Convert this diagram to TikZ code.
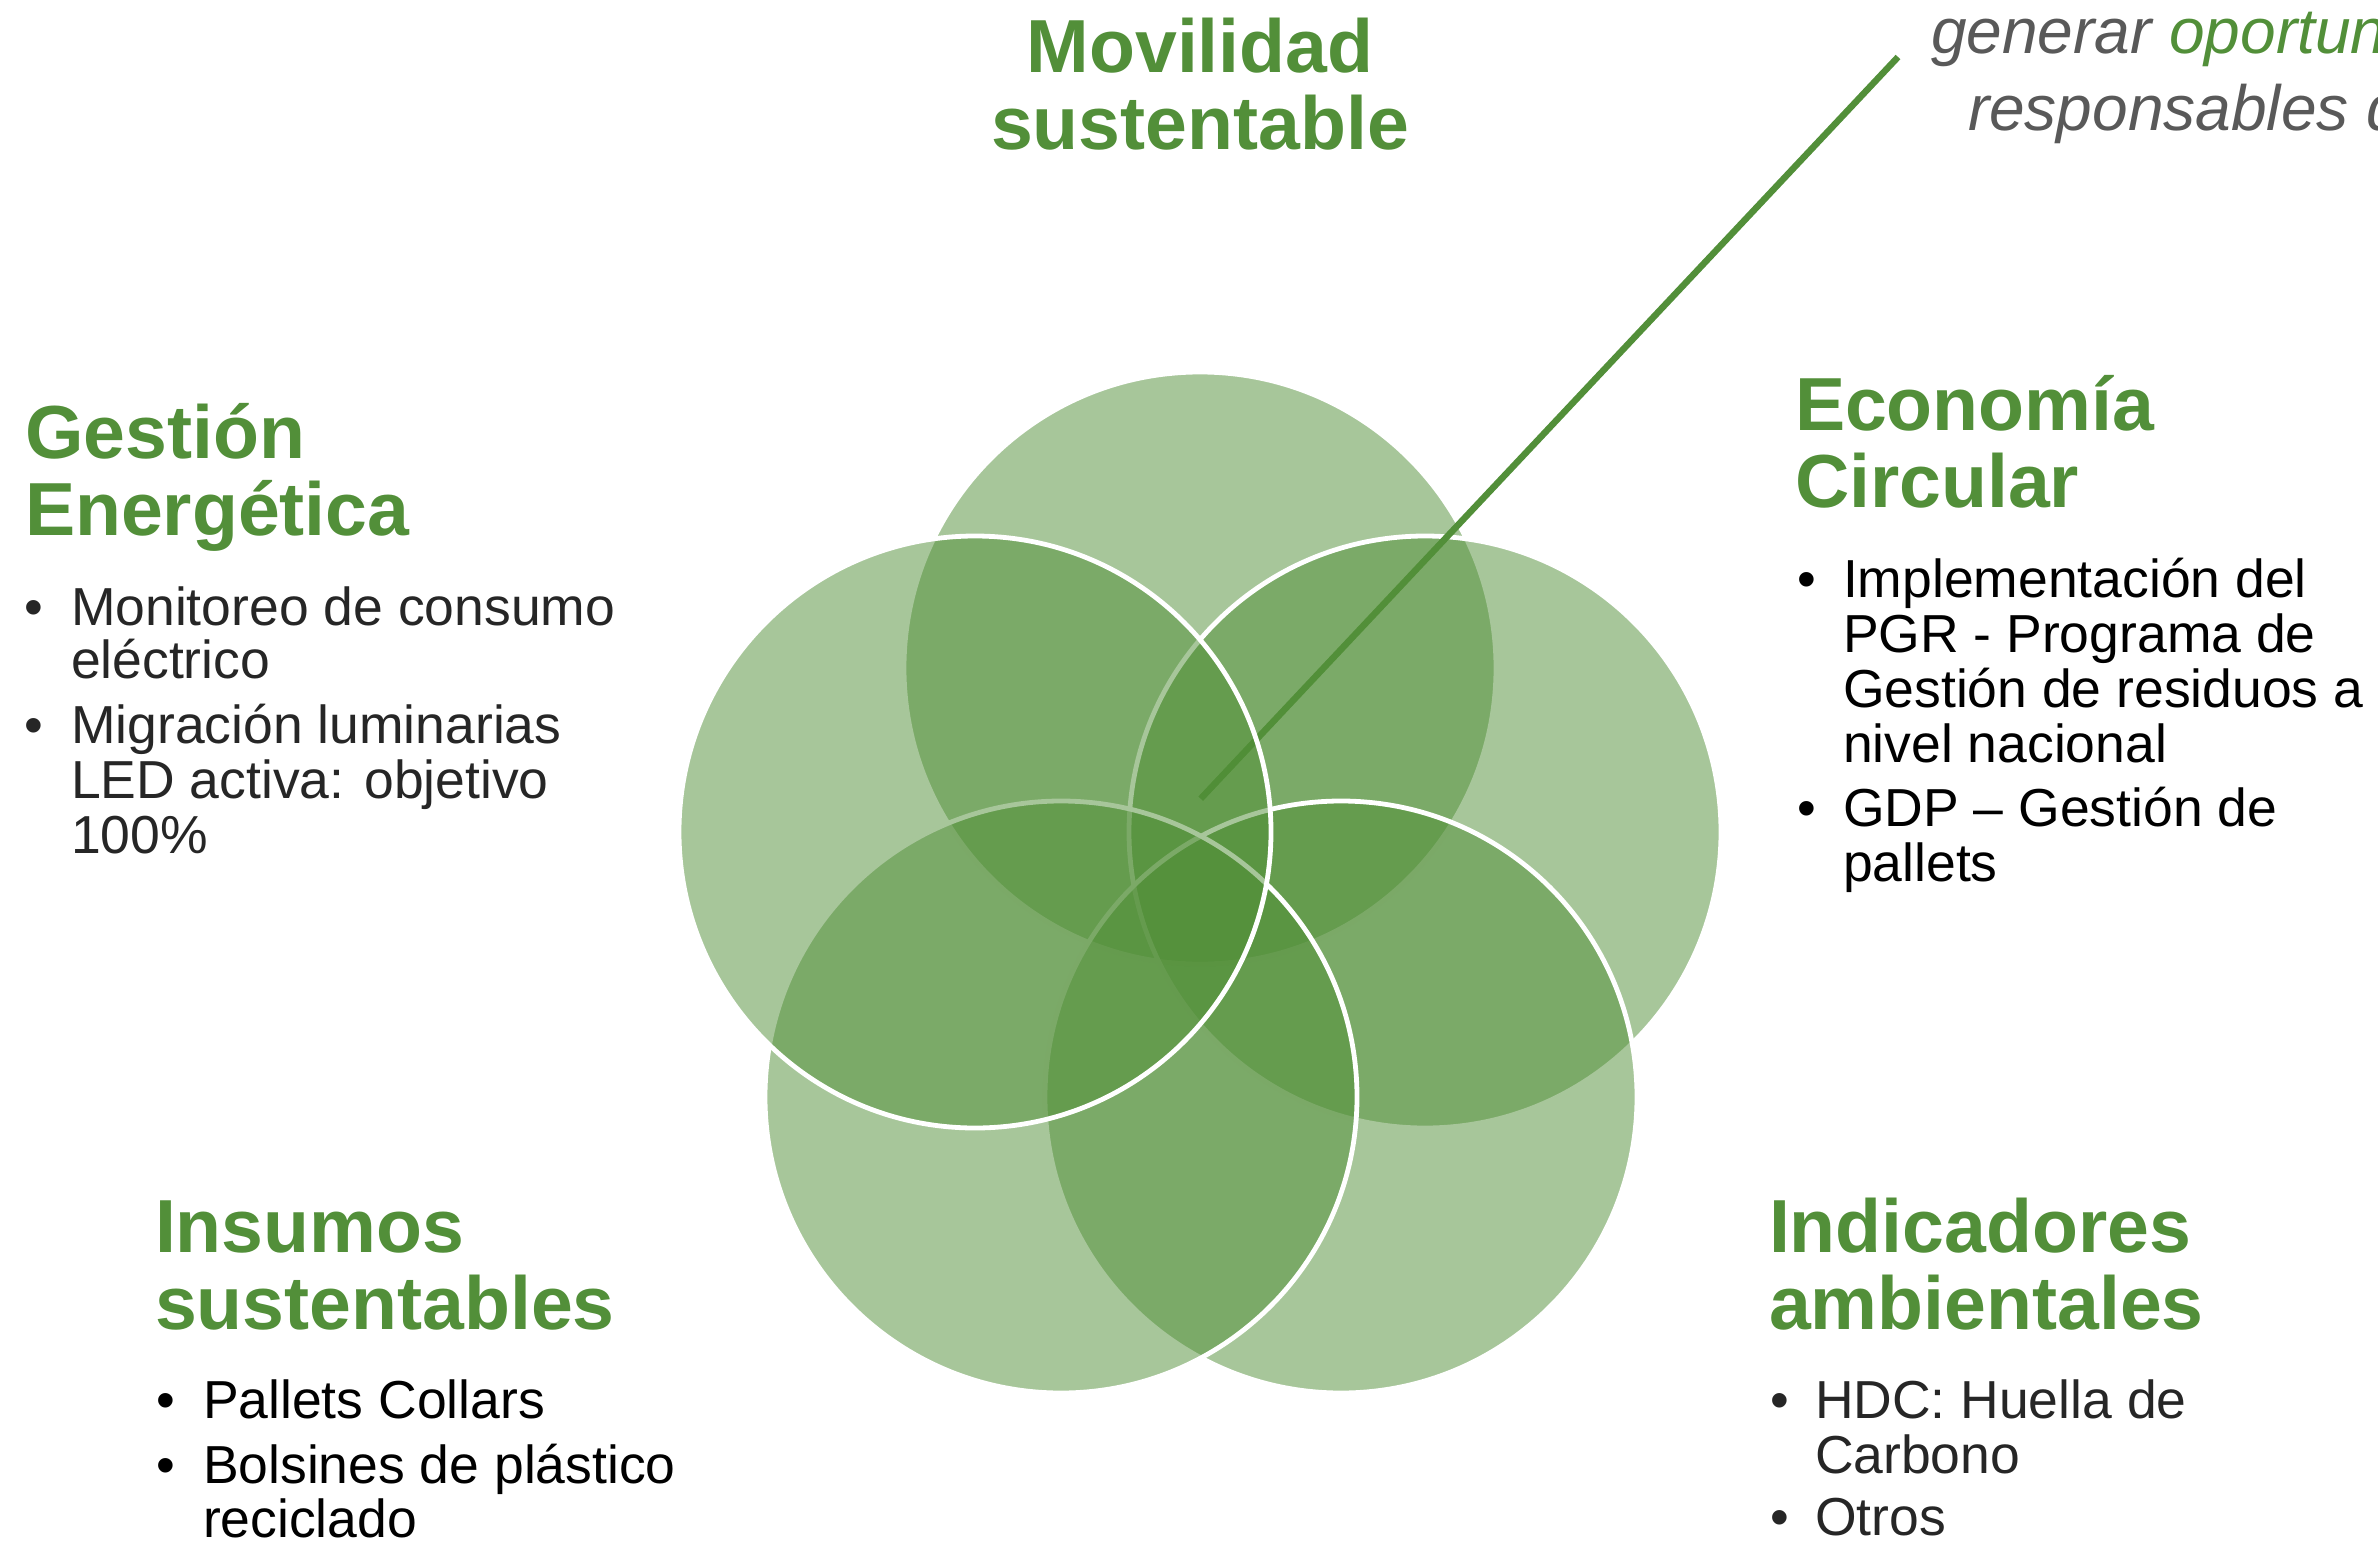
\documentclass[tikz,border=0pt]{standalone}
\usepackage{fontspec}
\setmainfont{Liberation Sans}
\definecolor{grn}{RGB}{82,143,57}
\definecolor{circ}{RGB}{80,142,54}
\definecolor{dk}{RGB}{38,38,38}
\definecolor{gry}{RGB}{89,89,89}
\begin{document}
\begin{tikzpicture}[x=1pt,y=-1pt,
  petal/.style={circle, minimum size=592pt, inner sep=0pt, outer sep=0pt,
    fill=circ, fill opacity=0.5, draw=white, line width=4.8pt},
  ttl/.style={anchor=base west, inner sep=0pt, outer sep=0pt, text=grn,
    font=\fontsize{75.2}{77}\selectfont\bfseries},
  ttlc/.style={ttl, anchor=base},
  itm/.style={anchor=base west, inner sep=0pt, outer sep=0pt,
    font=\fontsize{53.5}{54.5}\selectfont},
  itmd/.style={itm, text=dk},
  itmk/.style={itm, text=black},
  note/.style={anchor=base west, inner sep=0pt, outer sep=0pt, text=gry,
    font=\fontsize{64}{77}\selectfont\itshape},
  link/.style={draw=grn, line width=6.5pt}]
\useasboundingbox (0,0) rectangle (2378,1542);
\clip (0,0) rectangle (2378,1542);

% circles (drawing order matters for the white outlines)
\node[petal] (cT)  at (1200,668) {};
\node[petal] (cR)  at (1425,832) {};
\node[petal] (cBR) at (1341,1097) {};
\node[petal] (cBL) at (1061,1097) {};
\coordinate (lnA) at (1200.7,798.7);
\coordinate (lnB) at (1898,57);
\draw[link] (lnA) -- (lnB);
\node[petal] (cL)  at (975,832) {};

% top title
\node[ttlc] (t1a) at (1200,72) {Movilidad};
\node[ttlc] (t1b) at (1200,149) {sustentable};

% top-right note
\node[note] (n1) at (1931,53) {generar \textcolor{grn}{oportuni}};
\node[note] (n2) at (1968,130) {responsables d};

% Gestion Energetica
\node[ttl] (t2a) at (25,458) {Gestión};
\node[ttl] (t2b) at (25,535) {Energética};
\node[itmd] (g0) at (24,625) {•};
\node[itmd] (g1) at (71,625) {Monitoreo de consumo};
\node[itmd] (g2) at (71,678.5) {eléctrico};
\node[itmd] (g3) at (24,743) {•};
\node[itmd] (g4) at (71,743) {Migración luminarias};
\node[itmd] (g5) at (71,798) {LED activa: objetivo};
\node[itmd] (g6) at (71,853) {100\%};

% Economia Circular
\node[ttl] (t3a) at (1795,430) {Economía};
\node[ttl] (t3b) at (1795,507) {Circular};
\node[itmk] (e0) at (1797,597) {•};
\node[itmk] (e1) at (1843,597) {Implementación del};
\node[itmk] (e2) at (1843,652) {PGR - Programa de};
\node[itmk] (e3) at (1843,707) {Gestión de residuos a};
\node[itmk] (e4) at (1843,762) {nivel nacional};
\node[itmk] (e5) at (1797,826) {•};
\node[itmk] (e6) at (1843,826) {GDP – Gestión de};
\node[itmk] (e7) at (1843,881) {pallets};

% Insumos sustentables
\node[ttl] (t4a) at (155,1252) {Insumos};
\node[ttl] (t4b) at (155,1329) {sustentables};
\node[itmk] (i0) at (156,1418) {•};
\node[itmk] (i1) at (203,1418) {Pallets Collars};
\node[itmk] (i2) at (156,1483) {•};
\node[itmk] (i3) at (203,1483) {Bolsines de plástico};
\node[itmk] (i4) at (203,1537) {reciclado};

% Indicadores ambientales
\node[ttl] (t5a) at (1769,1252) {Indicadores};
\node[ttl] (t5b) at (1769,1329) {ambientales};
\node[itmd] (a0) at (1770,1418) {•};
\node[itmd] (a1) at (1815,1418) {HDC: Huella de};
\node[itmd] (a2) at (1815,1473) {Carbono};
\node[itmd] (a3) at (1770,1535) {•};
\node[itmd] (a4) at (1815,1535) {Otros};
\end{tikzpicture}
\end{document}
